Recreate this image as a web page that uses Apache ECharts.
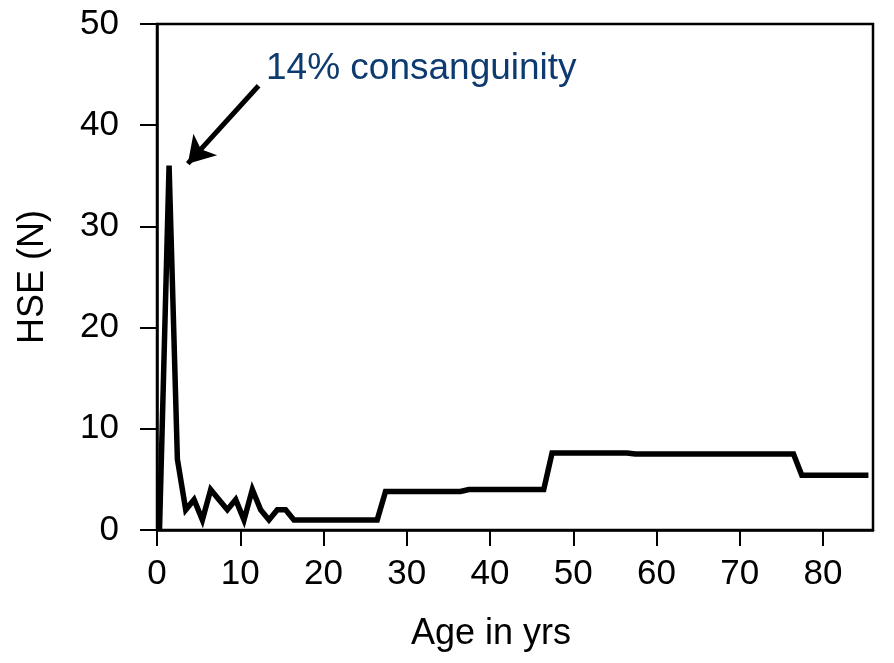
<!DOCTYPE html>
<html>
<head>
<meta charset="utf-8">
<script src="https://cdn.jsdelivr.net/npm/echarts@6/dist/echarts.min.js"></script>
<style>
  html, body { margin: 0; padding: 0; background: #fff; }
  #chart { width: 894px; height: 663px; }
</style>
</head>
<body>
<div id="chart"></div>
<script>
// age (yrs) and HSE count
const ages = [0.3, 1.45, 2.45, 3.45, 4.45, 5.45, 6.45, 7.45, 8.45, 9.45, 10.45, 11.45, 12.45, 13.45, 14.45, 15.45, 16.45,
  26.45, 27.45, 36.45, 37.45, 46.45, 47.45, 56.45, 57.45, 76.45, 77.45, 85.45];
const hse = [0, 36, 7, 2, 3, 1, 4, 3, 2, 3, 1, 4, 2, 1, 2, 2, 1,
  1, 3.8, 3.8, 4, 4, 7.6, 7.6, 7.5, 7.5, 5.4, 5.4];

const xTicks = [0, 10, 20, 30, 40, 50, 60, 70, 80];
const yTicks = [0, 10, 20, 30, 40, 50];

// annotation arrow: from text down to the peak
const arrowFrom = [12.2, 43.9];
const arrowTo = [3.7, 36.2];
const noteText = '14% consanguinity';

const font = 'Liberation Sans, Arial, sans-serif';
const chart = echarts.init(document.getElementById('chart'));

chart.setOption({
    animation: false,
    grid: {
        left: 157, top: 24, right: 21, bottom: 133,
        show: true, borderColor: '#000', borderWidth: 2.5
    },
    xAxis: {
        type: 'value',
        min: 0, max: 86, interval: 10,
        name: 'Age in yrs',
        nameLocation: 'middle',
        nameGap: 86,
        nameTextStyle: { fontFamily: font, fontSize: 36, color: '#000', padding: [0, 48, 0, 0] },
        axisLine: { lineStyle: { color: '#000', width: 2.5 } },
        axisTick: { length: 16, lineStyle: { color: '#000', width: 2 } },
        axisLabel: {
            fontFamily: font, fontSize: 35, color: '#000', margin: 27,
            showMaxLabel: false,
            formatter: v => xTicks.indexOf(v) >= 0 ? String(v) : ''
        },
        splitLine: { show: false }
    },
    yAxis: {
        type: 'value',
        min: 0, max: 50, interval: 10,
        name: 'HSE (N)',
        nameLocation: 'middle',
        nameGap: 106,
        nameTextStyle: { fontFamily: font, fontSize: 36, color: '#000' },
        axisLine: { show: true, lineStyle: { color: '#000', width: 2.5 } },
        axisTick: { show: true, length: 17, lineStyle: { color: '#000', width: 2 } },
        axisLabel: {
            fontFamily: font, fontSize: 35, color: '#000', margin: 38,
            formatter: v => yTicks.indexOf(v) >= 0 ? String(v) : ''
        },
        splitLine: { show: false }
    },
    series: [{
        type: 'line',
        data: ages.map((a, i) => [a, hse[i]]),
        showSymbol: false,
        lineStyle: { color: '#000', width: 5.5, join: 'miter' },
        markLine: {
            silent: true,
            symbol: ['none', 'arrow'],
            symbolSize: [24, 26],
            label: { show: false },
            lineStyle: { color: '#000', width: 5, type: 'solid' },
            data: [[{ coord: arrowFrom }, { coord: arrowTo }]]
        }
    }],
    graphic: [{
        type: 'text',
        left: 266, top: 50,
        style: { text: noteText, fontFamily: font, fontSize: 37, fill: '#0e3b6f' }
    }]
});
</script>
</body>
</html>
